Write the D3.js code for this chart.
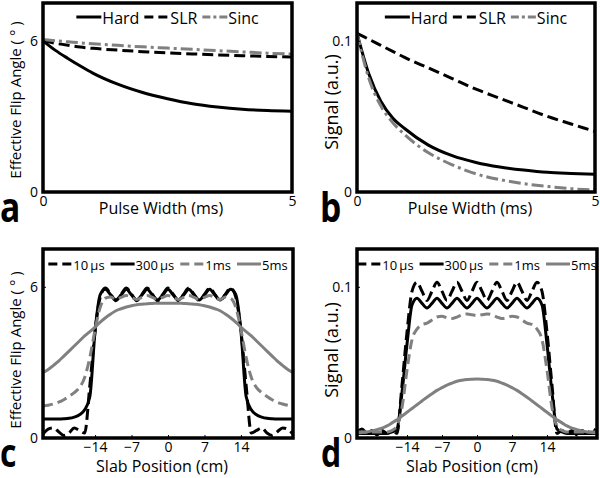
<!DOCTYPE html>
<html><head><meta charset="utf-8">
<script src="https://cdn.jsdelivr.net/npm/d3@7"></script>
<style>body{margin:0;background:#fff}svg{display:block}text{font-family:"Open Sans",sans-serif;fill:#000}</style>
</head><body><svg id="chart" width="600" height="478"></svg>
<script>
// ---------- data ----------
const pulseWidths = [0, 0.25, 0.5, 0.75, 1, 1.5, 2, 2.5, 3, 3.5, 4, 4.5, 5];
const aHard = [6.0, 5.62, 5.3, 5.0, 4.72, 4.28, 3.95, 3.7, 3.5, 3.37, 3.28, 3.23, 3.2];
const aSLR  = [6.0, 5.9, 5.82, 5.75, 5.7, 5.63, 5.57, 5.52, 5.48, 5.44, 5.41, 5.38, 5.36];
const aSinc = [6.05, 6.0, 5.96, 5.92, 5.88, 5.82, 5.76, 5.71, 5.66, 5.61, 5.56, 5.51, 5.47];
const bHard = [0.105, 0.078, 0.060, 0.049, 0.042, 0.031, 0.024, 0.0195, 0.0165, 0.0145, 0.013, 0.0123, 0.0118];
const bSLR  = [0.105, 0.101, 0.097, 0.093, 0.089, 0.082, 0.075, 0.068, 0.062, 0.056, 0.050, 0.045, 0.040];
const bSinc = [0.105, 0.075, 0.057, 0.046, 0.038, 0.026, 0.018, 0.012, 0.0082, 0.0055, 0.0037, 0.0022, 0.0012];

const slabPositions = [-24,-23,-22,-21,-20,-19,-18,-17,-16,-15,-14,-13,-12,-11,-10,-9,-8,-7,-6,-5,-4,-3,-2,-1,0,
  1,2,3,4,5,6,7,8,9,10,11,12,13,14,15,16,17,18,19,20,21,22,23,24];
const c10us = [0.15,0.35,0.4,0.25,0.1,0.2,0.4,0.3,0.2,2.1,4.25,5.6,5.95,5.7,5.45,5.7,5.95,5.7,5.45,5.7,5.95,5.7,5.45,5.7,5.95,
  5.7,5.45,5.7,5.95,5.7,5.45,5.7,5.95,5.7,5.45,5.7,5.95,5.6,4.25,2.1,0.2,0.3,0.4,0.2,0.1,0.25,0.4,0.35,0.15];
const c300us = [0.75,0.75,0.75,0.75,0.76,0.78,0.83,0.92,1.12,1.65,4.25,5.7,5.9,5.68,5.48,5.68,5.9,5.68,5.48,5.68,5.9,5.68,5.48,5.68,5.9,
  5.68,5.48,5.68,5.9,5.68,5.48,5.68,5.9,5.68,5.48,5.68,5.9,5.7,4.25,1.65,1.12,0.92,0.83,0.78,0.76,0.75,0.75,0.75,0.75];
const c1ms = [1.27,1.3,1.35,1.42,1.52,1.65,1.8,2.0,2.4,3.2,4.3,5.2,5.55,5.6,5.5,5.58,5.65,5.58,5.5,5.58,5.65,5.58,5.5,5.58,5.65,
  5.58,5.5,5.58,5.65,5.58,5.5,5.58,5.65,5.58,5.5,5.6,5.55,5.2,4.3,3.2,2.4,2.0,1.8,1.65,1.52,1.42,1.35,1.3,1.27];
const c5ms = [2.6,2.72,2.88,3.05,3.25,3.45,3.65,3.85,4.05,4.22,4.4,4.6,4.77,4.92,5.05,5.13,5.2,5.25,5.29,5.31,5.33,5.34,5.35,5.35,5.35,
  5.35,5.35,5.34,5.33,5.31,5.29,5.25,5.2,5.13,5.05,4.92,4.77,4.6,4.4,4.22,4.05,3.85,3.65,3.45,3.25,3.05,2.88,2.72,2.6];
const d10us = [0.004,0.006,0.003,0.005,0.002,0.005,0.003,0.005,0.003,0.035,0.07,0.097,0.103,0.097,0.091,0.097,0.103,0.097,0.091,0.097,0.103,0.097,0.091,0.097,0.103,
  0.097,0.091,0.097,0.103,0.097,0.091,0.097,0.103,0.097,0.091,0.097,0.103,0.097,0.07,0.035,0.003,0.005,0.003,0.005,0.002,0.005,0.003,0.006,0.004];
const d300us = [0.003,0.003,0.003,0.003,0.003,0.003,0.003,0.004,0.006,0.03,0.062,0.088,0.0925,0.089,0.086,0.089,0.0925,0.089,0.086,0.089,0.0925,0.089,0.086,0.089,0.0925,
  0.089,0.086,0.089,0.0925,0.089,0.086,0.089,0.0925,0.089,0.086,0.089,0.0925,0.088,0.062,0.03,0.006,0.004,0.003,0.003,0.003,0.003,0.003,0.003,0.003];
const d1ms = [0.004,0.004,0.004,0.004,0.004,0.004,0.004,0.005,0.008,0.02,0.045,0.065,0.072,0.075,0.076,0.078,0.08,0.0805,0.0795,0.079,0.08,0.0815,0.082,0.0815,0.081,
  0.0815,0.082,0.0815,0.08,0.079,0.0795,0.0805,0.08,0.078,0.076,0.075,0.072,0.065,0.045,0.02,0.008,0.005,0.004,0.004,0.004,0.004,0.004,0.004,0.004];
const d5ms = [0.0035,0.0037,0.004,0.0047,0.0055,0.0065,0.008,0.01,0.012,0.0145,0.017,0.0195,0.022,0.0245,0.027,0.0293,0.0315,0.0333,0.035,0.0363,0.0375,0.0382,0.0387,0.0389,0.039,
  0.0389,0.0387,0.0382,0.0375,0.0363,0.035,0.0333,0.0315,0.0293,0.027,0.0245,0.022,0.0195,0.017,0.0145,0.012,0.01,0.008,0.0065,0.0055,0.0047,0.004,0.0037,0.0035];

const pulseLegend = ["Hard", "SLR", "Sinc"];
const slabLegend = ["10\u2009\u03BCs", "300\u2009\u03BCs", "1ms", "5ms"];
const pulseXTicks = [0, 5];
const slabXTicks = [-14, -7, 0, 7, 14];
const angleYTicks = [0, 6];
const signalYTicks = [0, 0.1];

// ---------- styles ----------
const GRAY = "#808080";
const ST = {
  solidK:   {color: "#000", dash: null, legDash: null},
  dashK:    {color: "#000", dash: "11,5", legDash: "9,5"},
  dashdotG: {color: GRAY, dash: "12,4,3,4", legDash: "8,3,3,3"},
  dashG:    {color: GRAY, dash: "10,5", legDash: "9,5"},
  solidG:   {color: GRAY, dash: null, legDash: null}
};

const svg = d3.select("#chart");
let clipId = 0;

function panel(cfg) {
  const {x0, x1, y0, y1} = cfg.box;
  const x = d3.scaleLinear().domain(cfg.xDomain).range([x0, x1]);
  const y = d3.scaleLinear().domain(cfg.yDomain).range([y1, y0]);
  const g = svg.append("g");
  const id = "clip" + (clipId++);
  g.append("clipPath").attr("id", id).append("rect")
    .attr("x", x0).attr("y", y0).attr("width", x1 - x0).attr("height", y1 - y0);

  const plot = g.append("g").attr("clip-path", `url(#${id})`);
  cfg.series.forEach(s => {
    const line = d3.line().x((d, i) => x(cfg.xs[i])).y(d => y(d)).curve(d3.curveMonotoneX);
    plot.append("path").datum(s.values)
      .attr("fill", "none").attr("stroke", s.style.color)
      .attr("stroke-width", cfg.lw).attr("stroke-dasharray", s.style.dash)
      .attr("stroke-linejoin", "round")
      .attr("d", line);
  });

  const xa = g.append("g").attr("transform", `translate(0,${y1})`)
    .call(d3.axisBottom(x).tickValues(cfg.xTicks).tickSize(-3).tickPadding(cfg.xPad).tickFormat(d3.format("")));
  const ya = g.append("g").attr("transform", `translate(${x0},0)`)
    .call(d3.axisLeft(y).tickValues(cfg.yTicks).tickSize(-3).tickPadding(5).tickFormat(cfg.yFmt));
  [xa, ya].forEach(a => {
    a.select(".domain").remove();
    a.selectAll("line").attr("stroke", "#000").attr("stroke-width", 1);
    a.selectAll("text").attr("font-family", '"Open Sans",sans-serif').attr("font-size", 14).attr("fill", "#000");
  });

  g.append("rect").attr("x", x0).attr("y", y0).attr("width", x1 - x0).attr("height", y1 - y0)
    .attr("fill", "none").attr("stroke", "#000").attr("stroke-width", 3.5);

  // legend
  const leg = g.append("g");
  let cx = 0;
  const parts = cfg.series.map(s => {
    const t = leg.append("text").attr("font-size", cfg.legFont).attr("dominant-baseline", "central").text(s.label);
    const w = t.node().getComputedTextLength();
    const p = {s, t, xs: cx};
    cx += cfg.legSample + cfg.legPad + w + cfg.legGap;
    return p;
  });
  const total = cx - cfg.legGap;
  const start = (x0 + x1) / 2 - total / 2;
  parts.forEach(p => {
    const sx = start + p.xs;
    leg.append("line").attr("x1", sx).attr("x2", sx + cfg.legSample)
      .attr("y1", cfg.legY).attr("y2", cfg.legY)
      .attr("stroke", p.s.style.color).attr("stroke-width", cfg.lw)
      .attr("stroke-dasharray", p.s.style.legDash);
    p.t.attr("x", sx + cfg.legSample + cfg.legPad).attr("y", cfg.legY + 1);
  });

  g.append("text").attr("x", cfg.xLabelPos[0]).attr("y", cfg.xLabelPos[1])
    .attr("text-anchor", "middle").attr("font-size", 16).text(cfg.xLabel);
  g.append("text").attr("transform", `translate(${cfg.yLabelPos[0]},${cfg.yLabelPos[1]}) rotate(-90)`)
    .attr("text-anchor", "middle").attr("font-size", cfg.yLabelFont).text(cfg.yLabel);

  g.append("text").attr("transform", `translate(${cfg.letterPos[0]},${cfg.letterPos[1]}) scale(0.8,1)`)
    .attr("font-family", '"Liberation Sans",Arial,sans-serif').attr("font-weight", "bold")
    .attr("font-size", cfg.letterSize).text(cfg.letter);
}

const angleLabel = "Effective Flip Angle ( \u00B0 )";
const fmtSig = d => d === 0 ? "0" : d3.format(".1f")(d);

panel({
  box: {x0: 43, x1: 292, y0: 3, y1: 192}, xDomain: [0, 5], yDomain: [0, 7.5], xs: pulseWidths, lw: 3,
  series: [
    {values: aHard, style: ST.solidK, label: pulseLegend[0]},
    {values: aSLR, style: ST.dashK, label: pulseLegend[1]},
    {values: aSinc, style: ST.dashdotG, label: pulseLegend[2]}
  ],
  xTicks: pulseXTicks, yTicks: angleYTicks, yFmt: d3.format(""), xPad: 4,
  legY: 17, legFont: 16, legSample: 25, legPad: 1, legGap: 5,
  xLabel: "Pulse Width (ms)", xLabelPos: [161, 214],
  yLabel: angleLabel, yLabelPos: [21, 100], yLabelFont: 15,
  letter: "a", letterPos: [0, 222], letterSize: 42
});
panel({
  box: {x0: 357, x1: 595, y0: 3, y1: 192}, xDomain: [0, 5], yDomain: [0, 0.125], xs: pulseWidths, lw: 3,
  series: [
    {values: bHard, style: ST.solidK, label: pulseLegend[0]},
    {values: bSLR, style: ST.dashK, label: pulseLegend[1]},
    {values: bSinc, style: ST.dashdotG, label: pulseLegend[2]}
  ],
  xTicks: pulseXTicks, yTicks: signalYTicks, yFmt: fmtSig, xPad: 4,
  legY: 17, legFont: 16, legSample: 25, legPad: 1, legGap: 5,
  xLabel: "Pulse Width (ms)", xLabelPos: [470, 214],
  yLabel: "Signal (a.u.)", yLabelPos: [338, 102], yLabelFont: 18,
  letter: "b", letterPos: [320, 222], letterSize: 42
});
panel({
  box: {x0: 43, x1: 293, y0: 249, y1: 438}, xDomain: [-24, 24], yDomain: [0, 7.5], xs: slabPositions, lw: 3,
  series: [
    {values: c10us, style: ST.dashK, label: slabLegend[0]},
    {values: c300us, style: ST.solidK, label: slabLegend[1]},
    {values: c1ms, style: ST.dashG, label: slabLegend[2]},
    {values: c5ms, style: ST.solidG, label: slabLegend[3]}
  ],
  xTicks: slabXTicks, yTicks: angleYTicks, yFmt: d3.format(""), xPad: 4,
  legY: 264, legFont: 13, legSample: 24, legPad: 1, legGap: 6,
  xLabel: "Slab Position (cm)", xLabelPos: [162, 472],
  yLabel: angleLabel, yLabelPos: [21, 350], yLabelFont: 15,
  letter: "c", letterPos: [0, 467], letterSize: 40
});
panel({
  box: {x0: 357, x1: 597, y0: 249, y1: 438}, xDomain: [-24, 24], yDomain: [0, 0.125], xs: slabPositions, lw: 3,
  series: [
    {values: d10us, style: ST.dashK, label: slabLegend[0]},
    {values: d300us, style: ST.solidK, label: slabLegend[1]},
    {values: d1ms, style: ST.dashG, label: slabLegend[2]},
    {values: d5ms, style: ST.solidG, label: slabLegend[3]}
  ],
  xTicks: slabXTicks, yTicks: signalYTicks, yFmt: fmtSig, xPad: 4,
  legY: 264, legFont: 13, legSample: 24, legPad: 1, legGap: 6,
  xLabel: "Slab Position (cm)", xLabelPos: [472, 472],
  yLabel: "Signal (a.u.)", yLabelPos: [338, 350], yLabelFont: 18,
  letter: "d", letterPos: [321, 467], letterSize: 40
});
</script></body></html>
